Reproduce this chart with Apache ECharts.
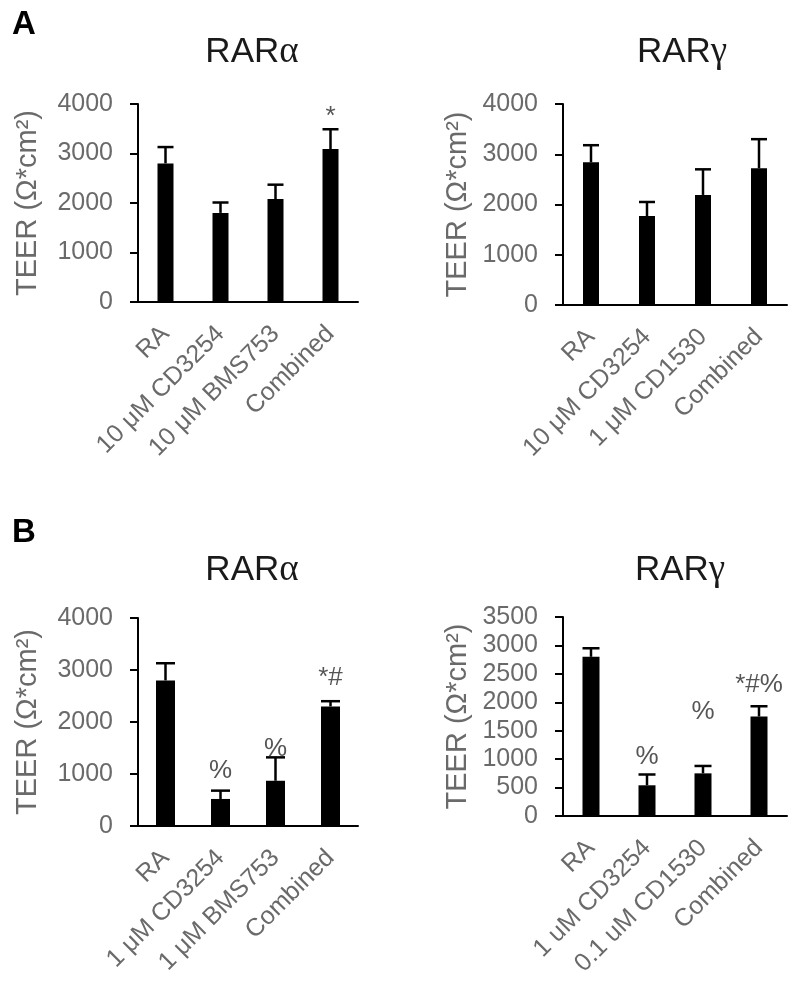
<!DOCTYPE html>
<html>
<head>
<meta charset="utf-8">
<script src="https://cdn.jsdelivr.net/npm/echarts@6/dist/echarts.min.js"></script>
<style>
html,body{margin:0;padding:0;background:#fff;}
#chart{width:800px;height:992px;}
</style>
</head>
<body>
<div id="chart"></div>
<script>
// ---------- DATA ----------
const categoriesA1 = ['RA', '10 μM CD3254', '10 μM BMS753', 'Combined'];
const meanA1 = [2800, 1800, 2080, 3090];
const errA1 = [330, 210, 290, 400];
const notesA1 = ['', '', '', '*'];

const categoriesA2 = ['RA', '10 μM CD3254', '1 μM CD1530', 'Combined'];
const meanA2 = [2840, 1770, 2190, 2720];
const errA2 = [340, 280, 510, 580];
const notesA2 = ['', '', '', ''];

const categoriesB1 = ['RA', '1 μM CD3254', '1 μM BMS753', 'Combined'];
const meanB1 = [2800, 520, 870, 2300];
const errB1 = [330, 160, 450, 100];
const notesB1 = ['', '%', '%', '*#'];

const categoriesB2 = ['RA', '1 uM CD3254', '0.1 uM CD1530', 'Combined'];
const meanB2 = [2800, 540, 750, 1750];
const errB2 = [150, 190, 130, 180];
const notesB2 = ['', '%', '%', '*#%'];

const ticksA1 = [0, 1000, 2000, 3000, 4000];
const ticksA2 = [0, 1000, 2000, 3000, 4000];
const ticksB1 = [0, 1000, 2000, 3000, 4000];
const ticksB2 = [0, 500, 1000, 1500, 2000, 2500, 3000, 3500];

const yTitle = 'TEER (Ω*cm²)';

// ---------- STYLE / LAYOUT ----------
const FONT = "'Liberation Sans', Arial, Helvetica, sans-serif";
const GRAY = '#6a6a6a';
const panels = [
  {cats: categoriesA1, mean: meanA1, err: errA1, notes: notesA1, ticks: ticksA1,
   grid: {left: 138, top: 104, width: 220, height: 198}, barW: 16, nameGap: 96, lifts: [0, 0, 0, 12]},
  {cats: categoriesA2, mean: meanA2, err: errA2, notes: notesA2, ticks: ticksA2,
   grid: {left: 563, top: 104, width: 224, height: 201}, barW: 16, nameGap: 91, lifts: [0, 0, 0, 0]},
  {cats: categoriesB1, mean: meanB1, err: errB1, notes: notesB1, ticks: ticksB1,
   grid: {left: 138, top: 618, width: 220, height: 208}, barW: 19, nameGap: 96, lifts: [0, 20, 9, 23]},
  {cats: categoriesB2, mean: meanB2, err: errB2, notes: notesB2, ticks: ticksB2,
   grid: {left: 563, top: 617, width: 224, height: 199}, barW: 17, nameGap: 91, lifts: [0, 18, 54, 21]}
];

const grids = [], xAxes = [], yAxes = [], series = [];
panels.forEach((p, i) => {
  grids.push(Object.assign({containLabel: false}, p.grid));
  const tMin = p.ticks[0], tMax = p.ticks[p.ticks.length - 1];
  const interval = p.ticks[1] - p.ticks[0];
  xAxes.push({
    type: 'category', gridIndex: i, data: p.cats,
    axisLine: {lineStyle: {color: '#000', width: 2}},
    axisTick: {show: false},
    axisLabel: {rotate: 45, color: GRAY, fontSize: 25, fontFamily: FONT, margin: 28, interval: 0}
  });
  yAxes.push({
    type: 'value', gridIndex: i, min: tMin, max: tMax, interval: interval,
    name: yTitle, nameLocation: 'middle', nameRotate: 90, nameGap: p.nameGap,
    nameTextStyle: {color: GRAY, fontSize: 29, fontFamily: FONT},
    axisLine: {show: true, lineStyle: {color: '#000', width: 2}},
    axisTick: {show: true, length: 8, lineStyle: {color: '#000', width: 2}},
    axisLabel: {color: GRAY, fontSize: 25, fontFamily: FONT, margin: 25, formatter: v => String(v)},
    splitLine: {show: false}
  });
  series.push({
    type: 'bar', xAxisIndex: i, yAxisIndex: i, data: p.mean,
    barWidth: p.barW, itemStyle: {color: '#000'}, silent: true
  });
  const errData = p.mean.map((m, k) => [k, m, p.err[k]]);
  series.push({
    type: 'custom', xAxisIndex: i, yAxisIndex: i, data: errData, silent: true, z: 5,
    encode: {x: 0, y: 1},
    renderItem: function (params, api) {
      const k = api.value(0), m = api.value(1), e = api.value(2);
      const base = api.coord([k, m]);
      const top = api.coord([k, m + e]);
      const hw = p.barW / 2;
      const children = [
        {type: 'line', shape: {x1: base[0], y1: base[1], x2: top[0], y2: top[1]},
         style: {stroke: '#000', lineWidth: 2.5}},
        {type: 'line', shape: {x1: top[0] - hw, y1: top[1], x2: top[0] + hw, y2: top[1]},
         style: {stroke: '#000', lineWidth: 2.5}}
      ];
      const note = p.notes[params.dataIndex];
      if (note) {
        children.push({type: 'text', x: top[0], y: top[1] - p.lifts[params.dataIndex],
          style: {text: note, fill: '#555', font: '26px ' + FONT, textAlign: 'center', textVerticalAlign: 'middle'}});
      }
      return {type: 'group', children: children};
    }
  });
});

function titleText(x, y, greek) {
  return {type: 'text', x: x, y: y,
    style: {text: 'RAR{g|' + greek + '}', fill: '#1a1a1a', font: '35px ' + FONT,
      textAlign: 'center', textVerticalAlign: 'middle',
      rich: {g: {fontFamily: "'Liberation Serif', 'Times New Roman', serif", fontSize: 37, fill: '#1a1a1a'}}}};
}

const option = {
  backgroundColor: '#fff',
  animation: false,
  grid: grids, xAxis: xAxes, yAxis: yAxes, series: series,
  graphic: [
    {type: 'text', x: 12, y: 25, style: {text: 'A', fill: '#000', font: 'bold 33px ' + FONT, textVerticalAlign: 'middle'}},
    {type: 'text', x: 12, y: 533, style: {text: 'B', fill: '#000', font: 'bold 33px ' + FONT, textVerticalAlign: 'middle'}},
    titleText(252, 52, 'α'),
    titleText(682, 52, 'γ'),
    titleText(252, 570, 'α'),
    titleText(680, 570, 'γ')
  ]
};

const chart = echarts.init(document.getElementById('chart'), null, {renderer: 'canvas'});
chart.setOption(option);
</script>
</body>
</html>
